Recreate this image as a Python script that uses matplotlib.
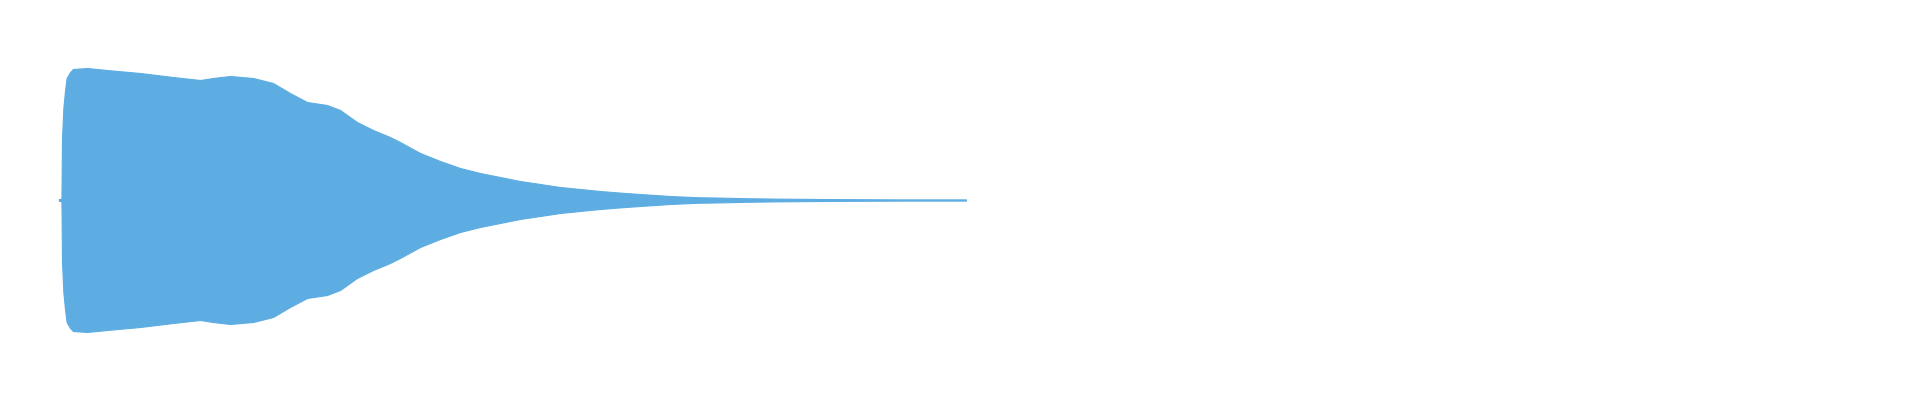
import numpy as np
import matplotlib
matplotlib.use('Agg')
import matplotlib.pyplot as plt

# waveform envelope (time in seconds, peak amplitude -1..1)
times = [0.307, 0.320, 0.323, 0.330, 0.339, 0.347, 0.365, 0.380, 0.453, 0.557,
         0.729, 0.901, 1.042, 1.109, 1.198, 1.318, 1.422, 1.510, 1.599, 1.703,
         1.771, 1.859, 1.943, 2.031, 2.083, 2.188, 2.292, 2.396, 2.500, 2.604,
         2.708, 2.813, 2.917, 3.021, 3.125, 3.229, 3.333, 3.490, 3.630, 3.750,
         3.880, 4.036, 4.271, 4.688, 5.031]
amps = [0.005, 0.005, 0.31, 0.46, 0.55, 0.61, 0.64, 0.655, 0.66, 0.65,
        0.635, 0.615, 0.60, 0.61, 0.62, 0.61, 0.585, 0.535, 0.49, 0.475,
        0.45, 0.39, 0.35, 0.315, 0.29, 0.235, 0.195, 0.16, 0.135, 0.115,
        0.095, 0.08, 0.065, 0.055, 0.045, 0.037, 0.03, 0.02, 0.014, 0.012,
        0.009, 0.007, 0.005, 0.003, 0.003]

duration = 10.0
wave_color = '#5DADE2'

fig = plt.figure(figsize=(19.2, 4), dpi=100)
ax = fig.add_axes([0, 0, 1, 1])

t = np.array(times)
a = np.array(amps)
ax.fill_between(t, -a, a, color=wave_color, linewidth=0.8, edgecolor=wave_color)

ax.set_xlim(0, duration)
ax.set_ylim(-1, 1)
ax.axis('off')

fig.savefig('out.png', dpi=100, facecolor='white')
